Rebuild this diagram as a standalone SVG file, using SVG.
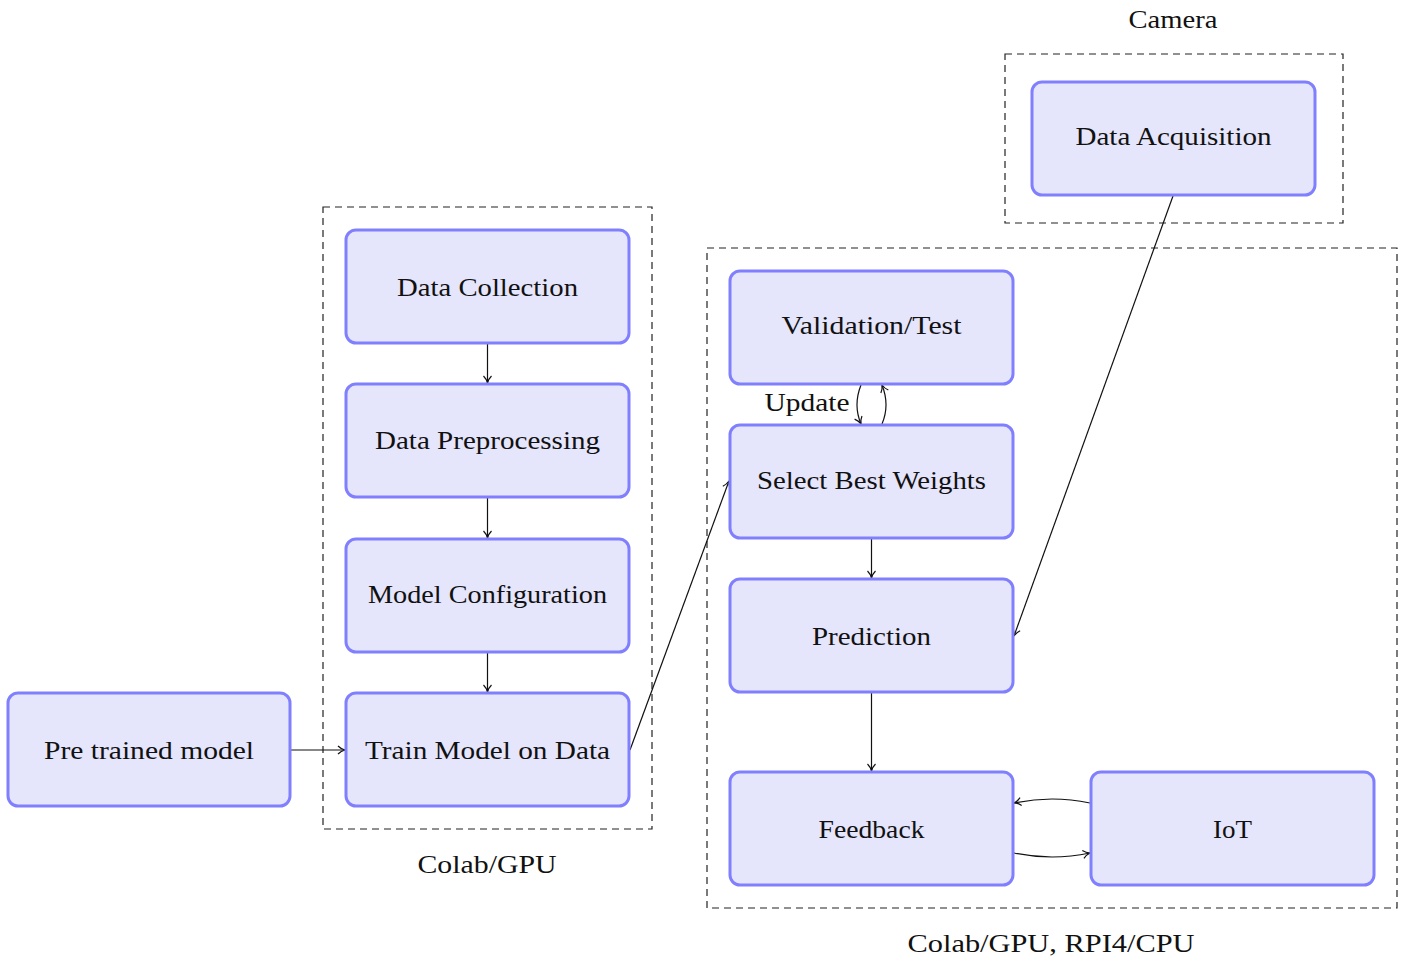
<svg xmlns="http://www.w3.org/2000/svg" width="1408" height="961" viewBox="0 0 1408 961">
<style>
.node rect{fill:#e5e5fc;stroke:#8080ff;stroke-width:3}
text{font-family:"Liberation Serif","DejaVu Serif",serif;font-size:25px;fill:#111;text-anchor:middle}
.grp{fill:none;stroke:#222;stroke-width:1.2;stroke-dasharray:7,5}
.edge{fill:none;stroke:#111;stroke-width:1.2;marker-end:url(#arr)}
</style>
<defs>
<marker id="arr" viewBox="0 0 10 10" refX="9" refY="5" markerWidth="10" markerHeight="10" markerUnits="userSpaceOnUse" orient="auto">
<path d="M2,1 Q5,4 9,5 Q5,6 2,9" fill="none" stroke="#111" stroke-width="1.2"/>
</marker>
</defs>
<rect width="1408" height="961" fill="#fff"/>
<g id="groups">
<rect class="grp" x="323" y="207" width="329" height="622"/>
<rect class="grp" x="707" y="248" width="690" height="660"/>
<rect class="grp" x="1005" y="54" width="338" height="169"/>
<text x="487" y="873" textLength="139" lengthAdjust="spacingAndGlyphs">Colab/GPU</text>
<text x="1051" y="952" textLength="287" lengthAdjust="spacingAndGlyphs">Colab/GPU, RPI4/CPU</text>
<text x="1173" y="28" textLength="89" lengthAdjust="spacingAndGlyphs">Camera</text>
</g>
<g id="connectors">
<path class="edge" d="M487.5,344 L487.5,383"/>
<path class="edge" d="M487.5,498 L487.5,538"/>
<path class="edge" d="M487.5,653 L487.5,692"/>
<path class="edge" d="M291,750 L345,750"/>
<path class="edge" d="M630,750 L729,481"/>
<path class="edge" d="M1173,196 L1014,636"/>
<path class="edge" d="M871.5,539 L871.5,578"/>
<path class="edge" d="M871.5,693 L871.5,771"/>
<path class="edge" d="M861,385 Q853,405 861,424"/>
<path class="edge" d="M882,424 Q890,405 882,385"/>
<path class="edge" d="M1090,803 Q1052,795 1014,803"/>
<path class="edge" d="M1014,853 Q1052,861 1090,853"/>
<text x="807" y="411" textLength="85" lengthAdjust="spacingAndGlyphs">Update</text>
</g>
<g id="n-collection" class="node"><rect x="346" y="230" width="283" height="113" rx="10"/><text x="487.5" y="296" textLength="181" lengthAdjust="spacingAndGlyphs">Data Collection</text></g>
<g id="n-preprocessing" class="node"><rect x="346" y="384" width="283" height="113" rx="10"/><text x="487.5" y="449" textLength="225" lengthAdjust="spacingAndGlyphs">Data Preprocessing</text></g>
<g id="n-config" class="node"><rect x="346" y="539" width="283" height="113" rx="10"/><text x="487.5" y="603" textLength="239" lengthAdjust="spacingAndGlyphs">Model Configuration</text></g>
<g id="n-train" class="node"><rect x="346" y="693" width="283" height="113" rx="10"/><text x="487.5" y="759" textLength="245" lengthAdjust="spacingAndGlyphs">Train Model on Data</text></g>
<g id="n-pretrained" class="node"><rect x="8" y="693" width="282" height="113" rx="10"/><text x="149" y="759" textLength="210" lengthAdjust="spacingAndGlyphs">Pre trained model</text></g>
<g id="n-validation" class="node"><rect x="730" y="271" width="283" height="113" rx="10"/><text x="871.5" y="334" textLength="180" lengthAdjust="spacingAndGlyphs">Validation/Test</text></g>
<g id="n-select" class="node"><rect x="730" y="425" width="283" height="113" rx="10"/><text x="871.5" y="489" textLength="229" lengthAdjust="spacingAndGlyphs">Select Best Weights</text></g>
<g id="n-prediction" class="node"><rect x="730" y="579" width="283" height="113" rx="10"/><text x="871.5" y="645" textLength="119" lengthAdjust="spacingAndGlyphs">Prediction</text></g>
<g id="n-feedback" class="node"><rect x="730" y="772" width="283" height="113" rx="10"/><text x="871.5" y="838" textLength="106" lengthAdjust="spacingAndGlyphs">Feedback</text></g>
<g id="n-iot" class="node"><rect x="1091" y="772" width="283" height="113" rx="10"/><text x="1232.5" y="838" textLength="39" lengthAdjust="spacingAndGlyphs">IoT</text></g>
<g id="n-acquisition" class="node"><rect x="1032" y="82" width="283" height="113" rx="10"/><text x="1173.5" y="145" textLength="196" lengthAdjust="spacingAndGlyphs">Data Acquisition</text></g>
</svg>
